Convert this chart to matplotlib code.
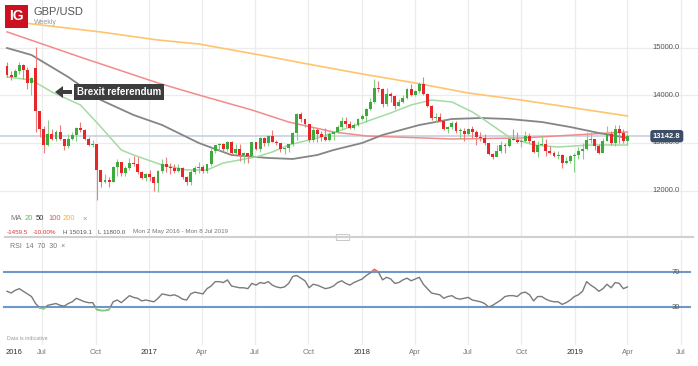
import matplotlib
matplotlib.use('Agg')
import matplotlib.pyplot as plt
import matplotlib.patches as mpatches
import pandas as pd

plt.rcParams['font.family'] = ['Liberation Sans', 'DejaVu Sans']

# weekly GBP/USD candles (x 10000), week of 2 May 2016 .. week of 1 Apr 2019
weeks = pd.date_range('2016-05-02', '2019-04-01', freq='7D')

opens = [14615, 14430, 14375, 14500, 14640, 14520, 14260, 14570, 13680, 13290,
         12950, 13190, 13090, 13230, 13080, 12940, 13080, 13170, 13320, 13270,
         13080, 12960, 12980, 12430, 12190, 12230, 12190, 12490, 12600, 12370,
         12470, 12580, 12570, 12390, 12260, 12340, 12280, 12170, 12410, 12560,
         12490, 12480, 12410, 12470, 12290, 12180, 12400, 12470, 12500, 12410,
         12550, 12830, 12950, 12970, 12880, 13030, 12800, 12880, 12740, 12780,
         12720, 13020, 12880, 13100, 13000, 13140, 13030, 13010, 12880, 12890,
         12970, 13200, 13610, 13500, 13390, 13070, 13280, 13190, 13130, 13060,
         13190, 13220, 13330, 13470, 13390, 13310, 13380, 13510, 13570, 13720,
         13860, 14150, 14130, 13820, 14020, 13980, 13780, 13860, 13950, 14140,
         14010, 14090, 14240, 14020, 13780, 13530, 13540, 13460, 13300, 13330,
         13410, 13260, 13260, 13190, 13290, 13230, 13130, 13110, 13000, 12760,
         12710, 12840, 12950, 12930, 13080, 13070, 13030, 13040, 13150, 13040,
         12810, 12960, 12980, 12830, 12790, 12720, 12740, 12590, 12630, 12730,
         12750, 12840, 12880, 13070, 13080, 12940, 12790, 13040, 13190, 13010,
         13290, 13210, 13040]
closes = [14430, 14375, 14500, 14640, 14520, 14260, 14370, 13680, 13290, 12950,
          13190, 13090, 13230, 13080, 12940, 13080, 13170, 13320, 13270, 13080,
          12960, 12980, 12430, 12190, 12230, 12190, 12490, 12600, 12370, 12470,
          12580, 12570, 12390, 12260, 12340, 12280, 12170, 12410, 12560, 12490,
          12480, 12410, 12470, 12290, 12180, 12400, 12470, 12500, 12410, 12550,
          12830, 12950, 12970, 12880, 13030, 12800, 12880, 12740, 12780, 12720,
          13020, 12880, 13100, 13000, 13140, 13030, 13010, 12880, 12890, 12970,
          13200, 13610, 13500, 13390, 13070, 13280, 13190, 13130, 13060, 13190,
          13220, 13330, 13470, 13390, 13310, 13380, 13510, 13570, 13720, 13860,
          14150, 14130, 13820, 14020, 13980, 13780, 13860, 13950, 14140, 14010,
          14090, 14240, 14020, 13780, 13530, 13540, 13460, 13300, 13330, 13410,
          13260, 13260, 13190, 13290, 13230, 13130, 13110, 13000, 12760, 12710,
          12840, 12950, 12930, 13080, 13070, 13030, 13040, 13150, 13040, 12810,
          12960, 12980, 12830, 12790, 12720, 12740, 12590, 12630, 12730, 12750,
          12840, 12880, 13070, 13080, 12940, 12790, 13040, 13190, 13010, 13290,
          13210, 13040, 13143]
highs = [14700, 14510, 14560, 14700, 14660, 14590, 14380, 15019, 13530, 13350,
         13480, 13290, 13270, 13370, 13080, 13190, 13240, 13330, 13440, 13300,
         13120, 13060, 12970, 12400, 12340, 12290, 12510, 12670, 12600, 12510,
         12680, 12720, 12700, 12410, 12370, 12430, 12300, 12440, 12670, 12700,
         12580, 12560, 12570, 12500, 12300, 12430, 12520, 12610, 12540, 12570,
         12900, 12960, 12990, 12990, 13050, 13050, 12980, 12980, 12810, 12800,
         13030, 13030, 13120, 13120, 13170, 13270, 13070, 12950, 12910, 12980,
         13220, 13620, 13650, 13510, 13400, 13340, 13320, 13260, 13320, 13230,
         13240, 13370, 13550, 13550, 13460, 13410, 13520, 13610, 13740, 13940,
         14345, 14290, 14150, 14150, 14070, 14000, 13930, 14000, 14150, 14240,
         14110, 14270, 14377, 14050, 13800, 13620, 13620, 13480, 13360, 13470,
         13470, 13320, 13310, 13310, 13360, 13270, 13220, 13180, 13000, 12800,
         12950, 13040, 12990, 13120, 13300, 13230, 13100, 13260, 13210, 13060,
         13040, 13170, 13080, 12930, 12840, 12840, 12770, 12700, 12740, 12780,
         12920, 12990, 13220, 13220, 13080, 12970, 13110, 13350, 13250, 13380,
         13380, 13290, 13200]
lows = [14380, 14330, 14380, 14450, 14340, 14130, 14010, 13229, 13120, 12800,
        12940, 13060, 13050, 13055, 12860, 12890, 13060, 13050, 13240, 13060,
        12930, 12910, 11800, 12080, 12170, 12080, 12180, 12300, 12300, 12300,
        12430, 12520, 12350, 12250, 12200, 12200, 11990, 11980, 12380, 12400,
        12350, 12380, 12390, 12250, 12110, 12110, 12340, 12380, 12370, 12370,
        12520, 12780, 12840, 12840, 12840, 12770, 12770, 12630, 12590, 12590,
        12710, 12850, 12810, 12930, 12930, 13020, 12960, 12810, 12770, 12810,
        12930, 13060, 13450, 13340, 13030, 13030, 13030, 13050, 13040, 13040,
        13070, 13200, 13300, 13330, 13300, 13300, 13360, 13480, 13450, 13690,
        13840, 14060, 13760, 13770, 13860, 13710, 13770, 13830, 13930, 13990,
        13980, 14050, 14000, 13760, 13490, 13450, 13440, 13280, 13200, 13300,
        13210, 13100, 13050, 13170, 13100, 12960, 13050, 12960, 12750, 12660,
        12720, 12800, 12790, 12920, 13060, 12990, 12920, 13030, 12990, 12780,
        12700, 12960, 12720, 12770, 12700, 12660, 12480, 12560, 12590, 12400,
        12670, 12670, 12850, 13000, 12850, 12770, 12870, 13040, 12960, 12940,
        13000, 13000, 12950]

# moving averages: (week number, level)
ma20_wk = [0, 6, 11, 18, 23, 28, 31, 38, 44, 49, 53, 61, 65, 69, 76, 82, 87, 94,
           99, 104, 109, 114, 117, 123, 129, 135, 143, 152]
ma20 = [14384, 14321, 14069, 13797, 13335, 12853, 12748, 12539, 12434, 12434,
        12581, 12707, 12811, 12958, 13105, 13273, 13419, 13629, 13797, 13901,
        13860, 13650, 13482, 13126, 12958, 12916, 12958, 12958]
ma50_wk = [0, 6, 15, 23, 31, 38, 47, 55, 64, 70, 76, 80, 87, 92, 101, 109, 116,
           123, 131, 138, 145, 152]
ma50 = [14992, 14845, 14384, 13901, 13587, 13377, 13000, 12748, 12686, 12665,
        12748, 12853, 13000, 13168, 13377, 13503, 13524, 13503, 13440, 13335,
        13210, 13105]
ma100_wk = [0, 18, 37, 47, 60, 69, 80, 88, 109, 126, 139, 152]
ma100 = [15330, 14800, 14258, 14006, 13692, 13440, 13231, 13147, 13084, 13105,
         13168, 13231]
ma200_wk = [0, 23, 37, 47, 62, 75, 87, 100, 113, 126, 139, 152]
ma200 = [15558, 15327, 15159, 15075, 14845, 14635, 14447, 14258, 14048, 13900,
         13734, 13566]

rsi = [48, 46, 49, 51, 48, 45, 42, 34, 29, 28, 32, 33, 34, 32, 31, 34, 36, 40,
       38, 36, 35, 35, 27, 26, 26, 27, 36, 38, 35, 39, 43, 41, 40, 37, 38, 37,
       36, 40, 45, 44, 43, 44, 42, 39, 38, 45, 47, 46, 45, 51, 54, 59, 59, 58,
       61, 54, 53, 52, 52, 51, 57, 55, 58, 57, 59, 55, 53, 52, 53, 57, 65, 66,
       63, 60, 52, 56, 55, 53, 51, 52, 54, 58, 60, 57, 55, 58, 60, 62, 66, 69,
       73, 70, 61, 64, 62, 57, 58, 61, 63, 60, 62, 64, 56, 51, 46, 45, 44, 40,
       42, 43, 40, 39, 40, 41, 38, 37, 36, 34, 30, 32, 35, 38, 42, 43, 43, 42,
       46, 47, 44, 37, 42, 42, 39, 37, 36, 36, 33, 35, 38, 42, 44, 48, 59, 55,
       52, 48, 51, 56, 52, 58, 57, 51, 53]

price_ticks = [12000, 13000, 14000, 15000]
last_price = 13142.8
tick_dates = pd.date_range('2016-07-01', '2019-07-01', freq='QS')
tick_labels = ['Jul', 'Oct', '2017', 'Apr', 'Jul', 'Oct', '2018', 'Apr',
               'Jul', 'Oct', '2019', 'Apr', 'Jul']

W, H = 698, 366


def box(left, top, width, height):
    return [left / W, 1 - (top + height) / H, width / W, height / H]


fig = plt.figure(figsize=(6.98, 3.66), dpi=100)
ax = fig.add_axes(box(0, 0, W, 237))
axr = fig.add_axes(box(0, 240, W, 105), sharex=ax)

x0 = pd.Timestamp('2016-04-20')
x1 = pd.Timestamp('2019-07-31')
grid_c = '#ececec'

for a in (ax, axr):
    for s in a.spines.values():
        s.set_visible(False)
    for d in tick_dates:
        a.axvline(d, color=grid_c, lw=0.9, zorder=0)

ax.set_xlim(x0, x1)
ax.set_ylim(11029, 15998)
ax.set_yticks([])
ax.tick_params(axis='x', which='both', bottom=False, labelbottom=False)
for p in price_ticks:
    ax.axhline(p, color=grid_c, lw=0.9, zorder=0)
    ax.text(652 / W, p, '%.1f' % p, transform=ax.get_yaxis_transform(),
            fontsize=5.5, color='#555555', va='center', ha='left')

# current price line
ax.axhline(last_price, xmax=650 / W, color='#cbd5e0', lw=1.3, zorder=1)

# moving averages
ax.plot(weeks[ma200_wk], ma200, color='#ffc46e', lw=1.2, zorder=2)
ax.plot(weeks[ma100_wk], ma100, color='#f28b8b', lw=1.1, zorder=2)
ax.plot(weeks[ma50_wk], ma50, color='#858585', lw=1.3, zorder=2)
ax.plot(weeks[ma20_wk], ma20, color='#a3dba3', lw=1.1, zorder=2)

# candles
for d, o, h, l, c in zip(weeks, opens, highs, lows, closes):
    up = c >= o
    body_c = '#3cab3c' if up else '#e5262a'
    wick_c = '#86cf86' if up else '#f07a7a'
    ax.vlines(d, l, h, color=wick_c, lw=0.8, zorder=3)
    ax.bar(d, max(abs(c - o), 15), bottom=min(o, c), width=5.0,
           color=body_c, zorder=4, linewidth=0)

ax.text(653 / W, last_price, '%.1f' % last_price,
        transform=ax.get_yaxis_transform(), fontsize=5.5, color='white',
        weight='bold', va='center', ha='left', zorder=6,
        bbox=dict(boxstyle='round,pad=0.35', fc='#3c4e65', ec='none'))

# RSI panel
axr.set_ylim(-13.4, 106.6)
axr.set_yticks([])
axr.plot(weeks, rsi, color='#7a7a7a', lw=1.0, zorder=3)
hi = axr.plot(weeks, rsi, color='#f07070', lw=1.0, zorder=4)[0]
hi.set_clip_path(mpatches.Rectangle((0, 70), 1e6, 100,
                                    transform=axr.transData))
lo = axr.plot(weeks, rsi, color='#7fd07f', lw=1.0, zorder=4)[0]
lo.set_clip_path(mpatches.Rectangle((0, -100), 1e6, 130,
                                    transform=axr.transData))
for lvl in (70, 30):
    axr.axhline(lvl, xmin=4 / W, xmax=690 / W, color='#6d98c9', lw=1.5,
                zorder=2)
    axr.text(672 / W, lvl, str(lvl), transform=axr.get_yaxis_transform(),
             fontsize=5.5, color='#555555', va='center', ha='left')

axr.set_xticks(tick_dates)
axr.set_xticklabels(tick_labels)
axr.tick_params(axis='x', length=0, pad=3, labelsize=5.5, labelcolor='#777777')
for lab in axr.get_xticklabels():
    if lab.get_text().isdigit():
        lab.set_color('#333333')
fig.text(6 / W, 1 - 352 / H, '2016', fontsize=5.5, color='#333333',
         va='center', ha='left')

# header
fig.patches.append(mpatches.Rectangle((5 / W, 1 - 28 / H), 23 / W, 23 / H,
                                      transform=fig.transFigure,
                                      fc='#cc1020', ec='none'))
fig.text(16.5 / W, 1 - 16.5 / H, 'IG', color='white', fontsize=10,
         weight='bold', ha='center', va='center')
fig.text(33 / W, 1 - 12 / H, 'GBP/USD', color='#555555', fontsize=8,
         ha='left', va='center')
fig.text(34 / W, 1 - 22 / H, 'Weekly', color='#999999', fontsize=5,
         ha='left', va='center')

# Brexit annotation
arrow = [(55, 92), (63, 86), (63, 90), (72, 90), (72, 94), (63, 94), (63, 98)]
fig.patches.append(mpatches.Polygon([(x / W, 1 - y / H) for x, y in arrow],
                                    closed=True, transform=fig.transFigure,
                                    fc='#3d3d3d', ec='none'))
fig.text(119 / W, 1 - 92 / H, 'Brexit referendum', color='white',
         fontsize=7, weight='bold', ha='center', va='center',
         bbox=dict(boxstyle='square,pad=0.3', fc='#3d3d3d', ec='none'))

# MA legend and info line
ma_legend = [('MA', '#777777', 10), ('20', '#5cbf5c', 25), ('50', '#333333', 36),
             ('100', '#ee5555', 48), ('200', '#ffb030', 63), ('\u00d7', '#999999', 82)]
for txt, col, xp in ma_legend:
    fig.text(xp / W, 1 - 219 / H, txt, color=col, fontsize=5.5, va='center')
info = [('-1459.5', '#e03030', 7), ('-10.00%', '#e03030', 33),
        ('H 15019.1', '#555555', 63), ('L 11800.0', '#555555', 98),
        ('Mon 2 May 2016 - Mon 8 Jul 2019', '#777777', 133)]
for txt, col, xp in info:
    fig.text(xp / W, 1 - 232 / H, txt, color=col, fontsize=4.5, va='center')

fig.lines.append(plt.Line2D([5 / W, 693 / W], [1 - 237 / H, 1 - 237 / H],
                            transform=fig.transFigure, color='#d0d0d0', lw=1.5))
fig.patches.append(mpatches.FancyBboxPatch((337 / W, 1 - 240 / H), 12 / W, 5 / H,
                                           boxstyle='round,pad=0.001',
                                           transform=fig.transFigure,
                                           fc='white', ec='#bbbbbb', lw=0.6))

fig.text(10 / W, 1 - 246 / H, 'RSI  14  70  30  \u00d7', color='#777777',
         fontsize=5, va='center')
fig.text(7 / W, 1 - 338 / H, 'Data is indicative', color='#999999',
         fontsize=3.8, va='center')

fig.savefig('out.png', dpi=100)
